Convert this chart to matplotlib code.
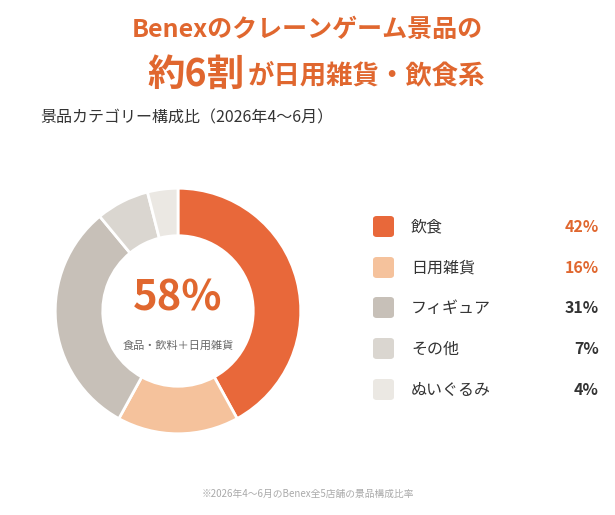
import matplotlib
matplotlib.use("Agg")
import matplotlib.pyplot as plt
from matplotlib.patches import FancyBboxPatch

plt.rcParams['font.family'] = ['Noto Sans CJK JP', 'DejaVu Sans']

categories = ["飲食", "日用雑貨", "フィギュア", "その他", "ぬいぐるみ"]
values = [42, 16, 31, 7, 4]
colors = ["#E8683A", "#F5C29C", "#C7C0B8", "#DAD6D0", "#EBE8E3"]
pct_colors = ["#E0672F", "#E0672F", "#333333", "#333333", "#333333"]
ORANGE = "#E0672F"

fig = plt.figure(figsize=(6.15, 5.15), dpi=100)
fig.patch.set_facecolor("white")

fig.text(0.5, 1 - 30/515, "Benexのクレーンゲーム景品の", ha="center", va="center",
         fontsize=18, fontweight="bold", color=ORANGE)
fig.text(0.397, 1 - 74/515, "約6割", ha="right", va="center", fontsize=27,
         fontweight="bold", color=ORANGE)
fig.text(0.403, 1 - 76/515, "が日用雑貨・飲食系", ha="left", va="center", fontsize=19,
         fontweight="bold", color=ORANGE)
fig.text(40/615, 1 - 118/515, "景品カテゴリー構成比（2026年4〜6月）", ha="left", va="center",
         fontsize=11.5, color="#333333")

ax = fig.add_axes([(178-124)/615, 1-(311+124)/515, 248/615, 248/515])
ax.pie(values, colors=colors, startangle=90, counterclock=False, radius=1,
       wedgeprops=dict(width=48/124, edgecolor="white", linewidth=2))
ax.set_xlim(-1.01, 1.01)
ax.set_ylim(-1.01, 1.01)
ax.set_aspect("equal")
ax.axis("off")
ax.text(0, 0.1, f"{values[0]+values[1]}%", ha="center", va="center", fontsize=30,
        fontweight="bold", color=ORANGE)
ax.text(0, -0.28, "食品・飲料＋日用雑貨", ha="center", va="center", fontsize=8, color="#666666")

rows = [227, 268, 308, 349, 390]
for cat, v, c, pc, y in zip(categories, values, colors, pct_colors, rows):
    yf = 1 - y/515
    fig.patches.append(FancyBboxPatch((373/615, yf - 10/515), 21/615, 21/515,
                                      boxstyle="round,pad=0,rounding_size=0.006",
                                      transform=fig.transFigure, facecolor=c, edgecolor="none"))
    fig.text(411/615, yf, cat, ha="left", va="center", fontsize=11.5, color="#333333")
    fig.text(599/615, yf, f"{v}%", ha="right", va="center", fontsize=11.5,
             fontweight="bold", color=pc)

fig.text(308/615, 1 - 494/515, "※2026年4〜6月のBenex全5店舗の景品構成比率", ha="center",
         va="center", fontsize=7, color="#aaaaaa")

fig.savefig("out.png", dpi=100, facecolor="white")
